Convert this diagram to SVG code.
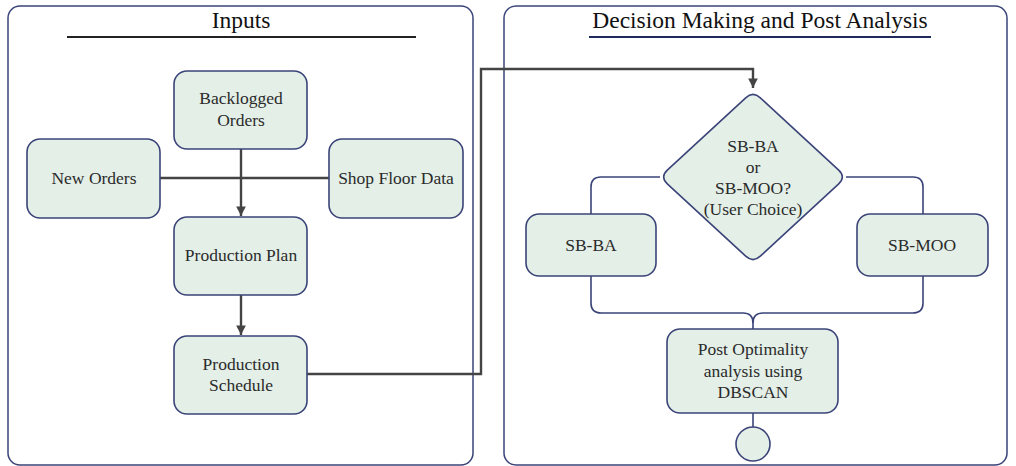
<svg xmlns="http://www.w3.org/2000/svg" width="1016" height="466" viewBox="0 0 1016 466">
  <style>
    .panel { fill: #ffffff; stroke: #3b4478; stroke-width: 1.5; }
    .box { fill: #e3efe7; stroke: #3b4478; stroke-width: 1.6; }
    .label { font-family: "Liberation Serif", "Times New Roman", serif; font-size: 17.5px; fill: #2b2b2b; text-anchor: middle; }
    .title { font-family: "Liberation Serif", "Times New Roman", serif; font-size: 23.5px; fill: #111111; text-anchor: middle; }
    .flow { fill: none; stroke: #444444; stroke-width: 2.4; }
    .branch { fill: none; stroke: #3b4478; stroke-width: 1.6; }
  </style>
  <defs>
    <marker id="arrow" viewBox="0 0 10 10" refX="10" refY="5" markerWidth="4" markerHeight="4" markerUnits="strokeWidth" orient="auto">
      <path d="M0,0 L10,5 L0,10 Z" fill="#444444"/>
    </marker>
  </defs>

  <!-- Panels -->
  <g id="panel-inputs">
    <rect class="panel" x="8" y="6" width="465" height="459" rx="12"/>
    <text class="title" x="241" y="28">Inputs</text>
    <line x1="67" y1="37" x2="416" y2="37" stroke="#222222" stroke-width="2"/>
  </g>
  <g id="panel-decision">
    <rect class="panel" x="504" y="6" width="503" height="459" rx="12"/>
    <text class="title" x="760" y="28">Decision Making and Post Analysis</text>
    <line x1="589" y1="37" x2="931" y2="37" stroke="#1f2a5c" stroke-width="2"/>
  </g>

  <!-- Connectors -->
  <g id="connectors">
    <line class="flow" x1="160" y1="178" x2="329" y2="178"/>
    <line class="flow" x1="241" y1="149" x2="241" y2="216" marker-end="url(#arrow)"/>
    <line class="flow" x1="241" y1="295" x2="241" y2="335" marker-end="url(#arrow)"/>
    <path class="flow" d="M307,374 H481 V69 H753 V88" marker-end="url(#arrow)"/>
    <path class="branch" d="M660,177 H601 Q591,177 591,187 V214"/>
    <path class="branch" d="M846,177 H913 Q923,177 923,187 V214"/>
    <path class="branch" d="M591,276 V303 Q591,313 601,313 H743 Q753,313 753,323 V329"/>
    <path class="branch" d="M923,276 V303 Q923,313 913,313 H763 Q753,313 753,323"/>
    <line class="branch" x1="753" y1="413" x2="753" y2="427"/>
  </g>

  <!-- Input nodes -->
  <g id="backlogged-orders">
    <rect class="box" x="174" y="71" width="133" height="78" rx="13"/>
    <text class="label" x="241" y="104">Backlogged</text>
    <text class="label" x="241" y="126">Orders</text>
  </g>
  <g id="new-orders">
    <rect class="box" x="27" y="139" width="133" height="79" rx="13"/>
    <text class="label" x="94" y="184">New Orders</text>
  </g>
  <g id="shop-floor-data">
    <rect class="box" x="329" y="139" width="134" height="79" rx="13"/>
    <text class="label" x="396" y="184">Shop Floor Data</text>
  </g>
  <g id="production-plan">
    <rect class="box" x="174" y="217" width="133" height="78" rx="13"/>
    <text class="label" x="241" y="261">Production Plan</text>
  </g>
  <g id="production-schedule">
    <rect class="box" x="174" y="336" width="133" height="78" rx="13"/>
    <text class="label" x="241" y="370">Production</text>
    <text class="label" x="241" y="391">Schedule</text>
  </g>

  <!-- Decision nodes -->
  <g id="choice">
    <path class="box" d="M745.7,97.8 Q753,91 760.3,97.8 L838.7,170.2 Q846,177 838.7,183.8 L760.3,256.2 Q753,263 745.7,256.2 L667.3,183.8 Q660,177 667.3,170.2 Z"/>
    <text class="label" x="753" y="152">SB-BA</text>
    <text class="label" x="753" y="173">or</text>
    <text class="label" x="753" y="194">SB-MOO?</text>
    <text class="label" x="753" y="215">(User Choice)</text>
  </g>
  <g id="sb-ba">
    <rect class="box" x="526" y="214" width="130" height="62" rx="13"/>
    <text class="label" x="591" y="251">SB-BA</text>
  </g>
  <g id="sb-moo">
    <rect class="box" x="857" y="214" width="131" height="62" rx="13"/>
    <text class="label" x="922" y="251">SB-MOO</text>
  </g>
  <g id="post-optimality">
    <rect class="box" x="667" y="329" width="171" height="84" rx="13"/>
    <text class="label" x="753" y="355">Post Optimality</text>
    <text class="label" x="753" y="377">analysis using</text>
    <text class="label" x="753" y="398">DBSCAN</text>
  </g>
  <g id="end">
    <circle class="box" cx="753" cy="444" r="17"/>
  </g>
</svg>
